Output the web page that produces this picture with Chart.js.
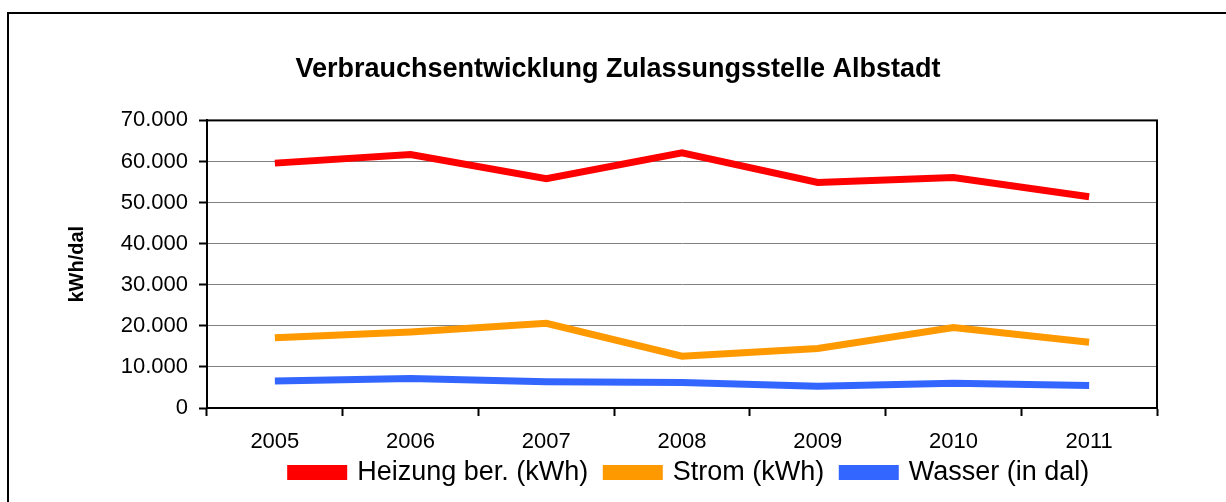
<!DOCTYPE html>
<html>
<head>
<meta charset="utf-8">
<script src="https://cdn.jsdelivr.net/npm/chart.js@4"></script>
<style>
  html, body { margin: 0; padding: 0; background: #fff; }
  #wrap { position: relative; width: 1226px; height: 502px; }
</style>
</head>
<body>
<div id="wrap"><canvas id="chart"></canvas></div>
<script>
// Verbrauchswerte je Jahr
const years = ['2005', '2006', '2007', '2008', '2009', '2010', '2011'];
const heizung = [59600, 61700, 55800, 62100, 54900, 56100, 51400];
const strom = [17100, 18500, 20600, 12600, 14500, 19600, 16000];
const wasser = [6600, 7200, 6400, 6200, 5300, 6000, 5500];
const yTicks = [0, 10000, 20000, 30000, 40000, 50000, 60000, 70000];

const fontFamily = '"Liberation Sans", Arial, sans-serif';

// Rahmen ums Bild und um die Zeichenfläche
const framePlugin = {
    id: 'frames',
    beforeDraw(chart) {
        const ctx = chart.ctx;
        ctx.save();
        ctx.strokeStyle = '#000';
        ctx.lineWidth = 2;
        ctx.strokeRect(8, 13, 1400, 700);
        ctx.restore();
    },
    beforeDatasetsDraw(chart) {
        const { ctx, chartArea } = chart;
        ctx.save();
        ctx.strokeStyle = '#000';
        ctx.lineWidth = 2;
        ctx.strokeRect(chartArea.left, chartArea.top, chartArea.right - chartArea.left, chartArea.bottom - chartArea.top);
        ctx.restore();
    }
};

// Legende etwas näher an die Jahreszahlen rücken
const legendShift = {
    id: 'legendShift',
    afterLayout(chart) {
        const lg = chart.legend;
        if (!lg) return;
        lg.top -= 15;
        lg.bottom -= 15;
        lg.left += 8;
        lg.right += 8;
    }
};

function line(label, data, color) {
    return {
        label: label,
        data: data,
        borderColor: color,
        backgroundColor: color,
        borderWidth: 7,
        borderJoinStyle: 'miter',
        borderCapStyle: 'butt',
        pointRadius: 0,
        pointHoverRadius: 0,
        tension: 0,
        fill: false
    };
}

new Chart(document.getElementById('chart'), {
    type: 'line',
    data: {
        labels: years,
        datasets: [
            line('Heizung ber. (kWh)', heizung, '#FF0000'),
            line('Strom (kWh)', strom, '#FF9900'),
            line('Wasser (in dal)', wasser, '#3366FF')
        ]
    },
    options: {
        responsive: true,
        maintainAspectRatio: false,
        animation: false,
        layout: { padding: { left: 10, right: 0, top: 0, bottom: 0 } },
        plugins: {
            title: {
                display: true,
                text: 'Verbrauchsentwicklung Zulassungsstelle Albstadt',
                color: '#000',
                font: { family: fontFamily, size: 27, weight: 'bold' },
                padding: { top: 53, bottom: 35 }
            },
            legend: {
                position: 'bottom',
                fullSize: false,
                maxHeight: 46,
                labels: {
                    color: '#000',
                    font: { family: fontFamily, size: 27 },
                    boxWidth: 53,
                    boxHeight: 8,
                    padding: 18
                }
            },
            tooltip: { enabled: false }
        },
        scales: {
            x: {
                offset: true,
                afterFit(scale) {
                    scale.height = 48;
                },
                grid: {
                    offset: true,
                    drawOnChartArea: false,
                    drawTicks: true,
                    tickLength: 8,
                    tickWidth: 2,
                    tickColor: '#000'
                },
                border: { display: true, color: '#000', width: 2 },
                ticks: {
                    color: '#000',
                    font: { family: fontFamily, size: 22 },
                    padding: 13,
                    maxRotation: 0
                }
            },
            y: {
                min: 0,
                max: 70000,
                afterBuildTicks(scale) {
                    scale.ticks = yTicks.map(v => ({ value: v }));
                },
                afterFit(scale) {
                    scale.width = 197;
                },
                grid: {
                    color: '#808080',
                    lineWidth: 1,
                    tickLength: 8,
                    tickWidth: 2,
                    tickColor: '#000'
                },
                border: { display: true, color: '#000', width: 2 },
                ticks: {
                    color: '#000',
                    font: { family: fontFamily, size: 22 },
                    padding: 11,
                    callback: v => v === 0 ? '0' : (v / 1000) + '.000'
                },
                title: {
                    display: true,
                    text: 'kWh/dal',
                    color: '#000',
                    font: { family: fontFamily, size: 20, weight: 'bold' },
                    padding: { top: 55, bottom: 0 }
                }
            },
            // leere rechte Achse, nur als Abstand
            spacer: {
                type: 'linear',
                position: 'right',
                display: true,
                grid: { display: false },
                border: { display: false },
                ticks: { display: false },
                afterFit(scale) {
                    scale.width = 69;
                }
            }
        }
    },
    plugins: [framePlugin, legendShift]
});
</script>
</body>
</html>
